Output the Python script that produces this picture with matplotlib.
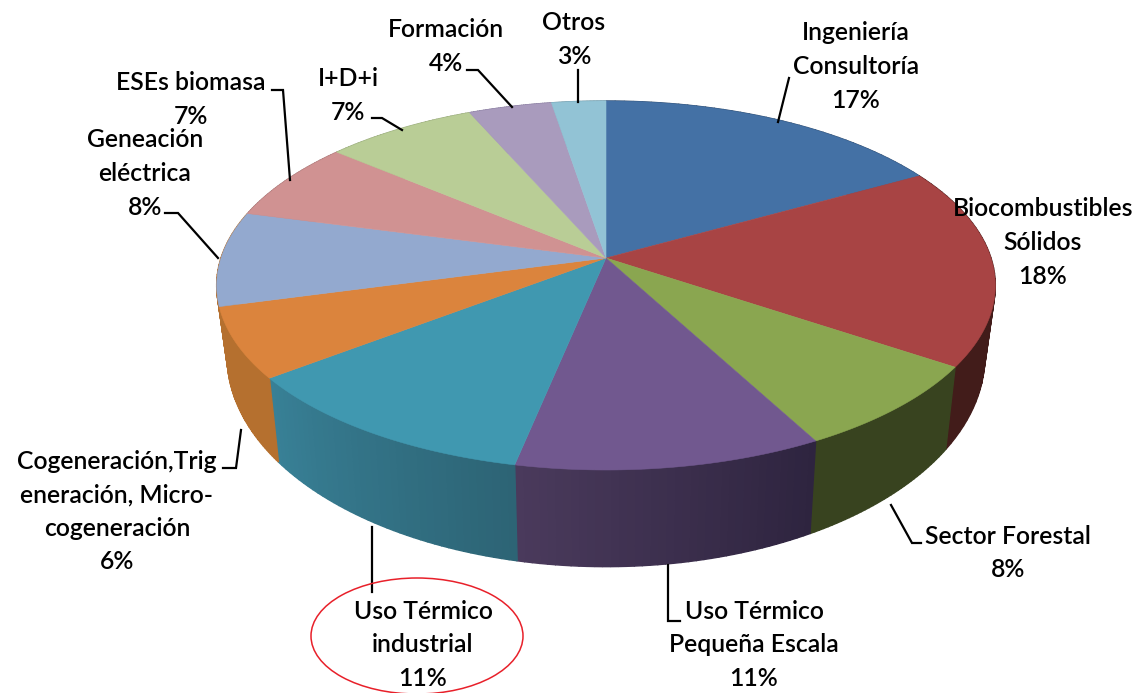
# Pie 3D con paredes laterales, dibujado sobre ejes en pixeles
import matplotlib
matplotlib.use('Agg')
import matplotlib.pyplot as plt
from matplotlib.patches import Polygon, Ellipse
import numpy as np

categorias = ['Ingeniería\nConsultoría', 'Biocombustibles\nSólidos', 'Sector Forestal',
              'Uso Térmico\nPequeña Escala', 'Uso Térmico\nindustrial',
              'Cogeneración,Trig\neneración, Micro-\ncogeneración',
              'Geneación\neléctrica', 'ESEs biomasa', 'I+D+i', 'Formación', 'Otros']
valores = [16.9, 17.5, 7.8, 11.1, 11.4, 6.2, 8.3, 7.0, 7.3, 4.0, 2.6]
colores = ['#4471a5', '#a84444', '#8aa650', '#71588f', '#4098b0', '#db843d',
           '#93a9cf', '#d09292', '#b9cd96', '#a99bbd', '#92c3d5']
# color de la pared: inicio y fin de cada porcion (sentido horario)
pared_ini = ['#2e4a6c', '#421c1a', '#38431f', '#2e243f', '#2d6475', '#b5702f',
             '#b5702f', '#a06e6e', '#8ea072', '#82769a', '#6e97a6']
pared_fin = ['#2e4a6c', '#421c1a', '#38431f', '#4a3a5c', '#388096', '#b5702f',
             '#b5702f', '#a06e6e', '#8ea072', '#82769a', '#6e97a6']

# posicion del centro de cada etiqueta
pos_etiquetas = [(856, 66.5), (1043, 242.5), (1008, 553), (754, 645), (423, 645),
                 (117, 511.5), (145, 173.5), (191, 99.5), (348, 95.5), (446, 46.5), (574, 39.5)]
# lineas guia
guias = [[(778, 122), (789, 78)],
         [(891, 505), (912, 543), (921, 543)],
         [(668, 565), (668, 621), (680, 621)],
         [(372, 527), (372, 592)],
         [(241, 430), (236, 468), (223, 468)],
         [(218, 258), (178, 213), (165, 213)],
         [(290, 180), (283, 90), (272, 90)],
         [(402, 130), (382, 118), (372, 118)],
         [(512, 107), (478, 70), (467, 70)],
         [(578, 102), (578, 70)]]

CX, CY = 606, 258
RX, RY, K = 385, 180.4, 0.149
CX2, CY2 = 606, 325
SX2, SY2 = 0.973, 1.14


def proyectar(ang):
    # perspectiva del circulo, ang en grados horario desde arriba
    a = np.radians(ang)
    x, y = np.sin(a), np.cos(a)
    d = 1 + K * y
    return RX * x / d, -RY * y / d


def borde_sup(ang):
    x, y = proyectar(ang)
    return CX + x, CY + y


def borde_inf(ang):
    x, y = proyectar(ang)
    return CX2 + SX2 * x, CY2 + SY2 * y


fig = plt.figure(figsize=(11.38, 6.93), dpi=100)
ax = fig.add_axes([0, 0, 1, 1])
ax.set_xlim(0, 1138)
ax.set_ylim(693, 0)
ax.axis('off')

fracs = np.array(valores) / sum(valores) * 360
limites = np.concatenate([[0], np.cumsum(fracs)])

# paredes
for i in range(len(valores)):
    angs = np.linspace(limites[i], limites[i + 1], 40)
    c0 = np.array(matplotlib.colors.to_rgb(pared_ini[i]))
    c1 = np.array(matplotlib.colors.to_rgb(pared_fin[i]))
    for j in range(len(angs) - 1):
        t = j / (len(angs) - 2)
        col = c0 + (c1 - c0) * t
        quad = [borde_sup(angs[j]), borde_sup(angs[j + 1]), borde_inf(angs[j + 1]), borde_inf(angs[j])]
        ax.add_patch(Polygon(quad, closed=True, facecolor=col, edgecolor=col, lw=1.0, zorder=1))

# superficie superior
for i in range(len(valores)):
    angs = np.linspace(limites[i], limites[i + 1], 80)
    pts = [(CX, CY)] + [borde_sup(a) for a in angs]
    ax.add_patch(Polygon(pts, closed=True, facecolor=colores[i], edgecolor=colores[i], lw=0.4, zorder=2))

for g in guias:
    xs, ys = zip(*g)
    ax.plot(xs, ys, color='black', lw=1.6, solid_joinstyle='miter', zorder=3)

for nombre, v, p in zip(categorias, valores, pos_etiquetas):
    ax.text(p[0], p[1], '{}\n{}%'.format(nombre, round(v)), ha='center', va='center', family='Lato',
            fontsize=17.8, fontweight='semibold', linespacing=1.56, color='black', zorder=4)

ax.add_patch(Ellipse((417, 636), 212, 116, fill=False, edgecolor='#e8202a', lw=1.1, zorder=5))

fig.savefig('out.png', dpi=100)
